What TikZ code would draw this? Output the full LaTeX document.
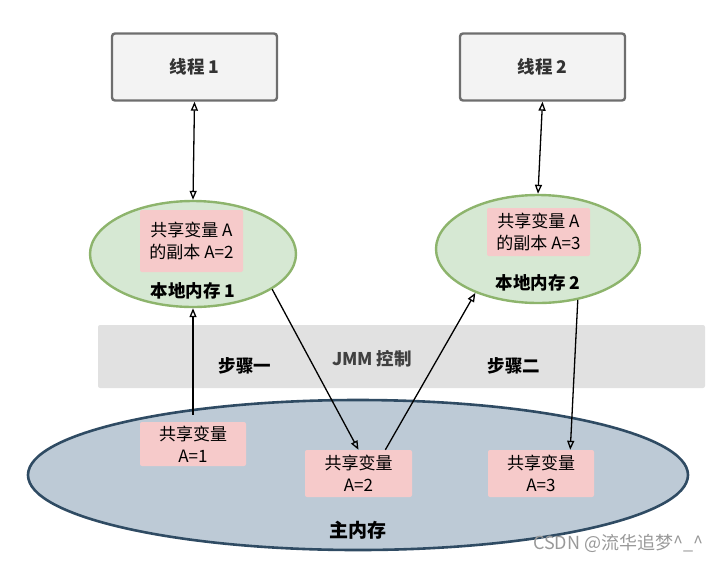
\documentclass[tikz,border=0pt]{standalone}
\usepackage{fontspec}
\newfontfamily\cjk{Noto Sans CJK SC}
\usetikzlibrary{shapes.geometric,arrows.meta,calc}
\definecolor{thrborder}{HTML}{6E6E6E}
\definecolor{thrfill}{HTML}{F3F3F3}
\definecolor{grnline}{HTML}{8DB46C}
\definecolor{grnfill}{HTML}{D6E8D3}
\definecolor{mainline}{HTML}{2F4B63}
\definecolor{mainfill}{HTML}{BDCAD6}
\definecolor{pinkfill}{HTML}{F6CACA}
\definecolor{bandfill}{HTML}{E1E1E1}
\tikzset{
  thr/.style={draw=thrborder, fill=thrfill, line width=2.4pt, rounded corners=3pt,
    minimum width=165pt, minimum height=67pt, font=\cjk\bfseries\fontsize{17.5}{20}\selectfont, text=black!80},
  localmem/.style={ellipse, draw=grnline, fill=grnfill, line width=2.4pt},
  pinkbox/.style={fill=pinkfill, rounded corners=2pt, inner sep=0pt, align=center,
    font=\cjk\fontsize{17}{22}\selectfont},
  lbl/.style={font=\cjk\bfseries\fontsize{17.5}{20}\selectfont},
  arr/.style={line width=1.3pt, -{Triangle[open,length=9pt,width=7pt]}},
  darr/.style={line width=1.3pt, {Triangle[open,length=9pt,width=7pt]}-{Triangle[open,length=9pt,width=7pt]}}
}
\begin{document}
\begin{tikzpicture}[x=1pt,y=-1pt]
\useasboundingbox (0,0) rectangle (720,563);
% JMM band
\node[fill=bandfill, minimum width=607pt, minimum height=63pt, inner sep=0pt, rounded corners=2pt] (band) at (401.5,356.5) {};
\node[lbl] (s1) at (245,366) {步骤一};
\node[lbl, text=black!75] (jmm) at (372,359) {JMM 控制};
\node[lbl] (s2) at (514,366) {步骤二};
% threads
\node[thr] (t1) at (194.5,67) {线程 1};
\node[thr] (t2) at (542.5,67) {线程 2};
% local memories
\node[localmem, minimum width=206pt, minimum height=106pt] (l1) at (193,254) {};
\node[pinkbox, minimum width=103pt, minimum height=62pt] (p1) at (191.5,241) {共享变量 A\\的副本 A=2};
\node[lbl] (l1t) at (193,291) {本地内存 1};
\node[localmem, minimum width=204pt, minimum height=108pt] (l2) at (538,249) {};
\node[pinkbox, minimum width=103pt, minimum height=48pt] (p2) at (538.5,232) {共享变量 A\\的副本 A=3};
\node[lbl] (l2t) at (538,283) {本地内存 2};
% main memory
\node[ellipse, draw=mainline, fill=mainfill, line width=2.6pt, minimum width=660pt, minimum height=150pt] (mm) at (358,475) {};
\node[pinkbox, minimum width=106pt, minimum height=44pt] (a1) at (193,444) {共享变量\\A=1};
\node[pinkbox, minimum width=107pt, minimum height=47pt] (a2) at (358.5,473.5) {共享变量\\A=2};
\node[pinkbox, minimum width=106pt, minimum height=47pt] (a3) at (541,473.5) {共享变量\\A=3};
\node[font=\cjk\bfseries\fontsize{19}{22}\selectfont] (mmt) at (358,530) {主内存};
% arrows
\draw[darr] (t1.south) -- (l1.north);
\draw[darr] (t2.south) -- (l2.north);
\coordinate (a1top) at ($(a1.north)+(0,-7)$);
\draw[arr] (a1top) -- (l1.south);
\draw[arr] (l1.-24) -- (a2.north);
\draw[arr] ($(a2.north)!0.5!(a2.north east)$) -- (l2.215);
\draw[arr] (l2.-52) -- ($(a3.north)!0.55!(a3.north east)$);
% watermark
\node[font=\cjk\fontsize{18}{20}\selectfont, text=black!40, anchor=east] (wm) at (707,543) {CSDN @流华追梦\^{}\_\^{}};
\end{tikzpicture}
\end{document}
